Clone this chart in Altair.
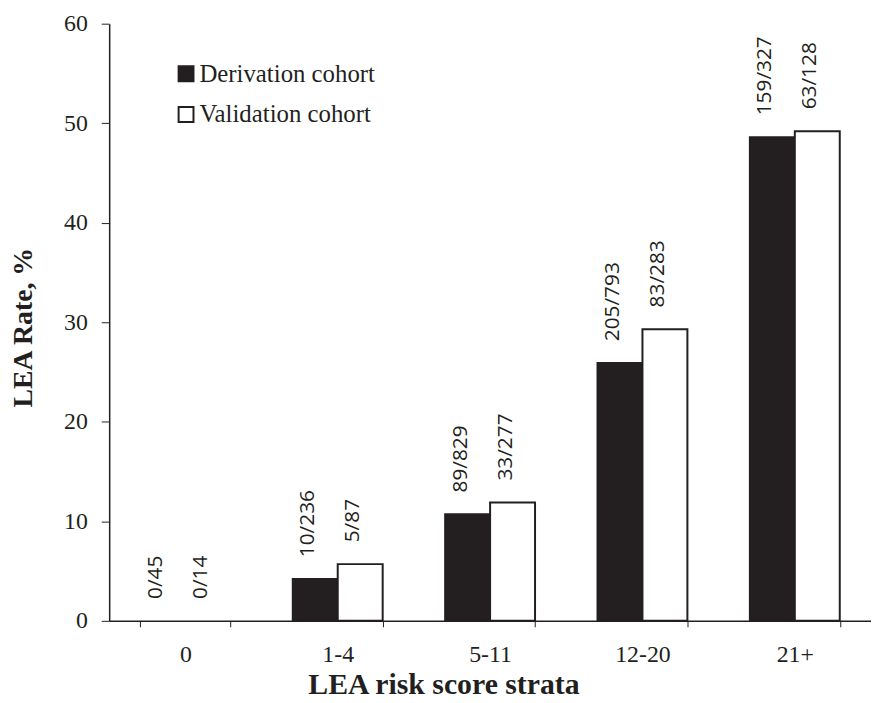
import altair as alt
import pandas as pd

strata = ["0", "1-4", "5-11", "12-20", "21+"]
cohorts = ["Derivation cohort", "Validation cohort"]
derivation_rate = [0.0, 4.2, 10.7, 25.9, 48.6]
validation_rate = [0.0, 5.7, 11.9, 29.3, 49.2]
derivation_labels = ["0/45", "10/236", "89/829", "205/793", "159/327"]
validation_labels = ["0/14", "5/87", "33/277", "83/283", "63/128"]

rows = []
for i, s in enumerate(strata):
    rows.append({"strata": s, "cohort": cohorts[0], "rate": derivation_rate[i], "label": derivation_labels[i]})
    rows.append({"strata": s, "cohort": cohorts[1], "rate": validation_rate[i], "label": validation_labels[i]})
df = pd.DataFrame(rows)

ink = "#231f20"
serif = "Liberation Serif"

x = alt.X(
    "strata:N",
    sort=strata,
    scale=alt.Scale(paddingInner=0.41, paddingOuter=0.205),
    axis=alt.Axis(
        title="LEA risk score strata",
        labelAngle=0,
        tickBand="extent",
        tickSize=6,
        tickColor=ink,
        domainColor=ink,
        domainWidth=1.5,
        labelFont=serif,
        labelFontSize=24,
        labelColor=ink,
        labelBaseline="alphabetic",
        labelPadding=35,
        titleFont=serif,
        titleFontSize=30,
        titleFontWeight="bold",
        titleColor=ink,
        titleX=337,
        titleY=73,
        titleBaseline="alphabetic",
        titleAlign="center",
    ),
)

y = alt.Y(
    "rate:Q",
    scale=alt.Scale(domain=[0, 60], nice=False),
    axis=alt.Axis(
        title="LEA Rate, %",
        values=[0, 10, 20, 30, 40, 50, 60],
        grid=False,
        tickSize=8,
        tickColor=ink,
        domainColor=ink,
        domainWidth=1.5,
        labelPadding=14,
        labelFont=serif,
        labelFontSize=24,
        labelColor=ink,
        titleFont=serif,
        titleFontSize=28,
        titleFontWeight="bold",
        titleColor=ink,
        titleX=-78,
        titleY=306,
        titleAlign="center",
        titleBaseline="alphabetic",
    ),
)

xoff = alt.XOffset("cohort:N", sort=cohorts, scale=alt.Scale(paddingInner=0, paddingOuter=0))

base = alt.Chart(df).encode(x=x, xOffset=xoff, y=y)

bars = base.mark_bar(stroke=ink, strokeWidth=2).encode(
    fill=alt.Fill(
        "cohort:N",
        sort=cohorts,
        scale=alt.Scale(domain=cohorts, range=[ink, "white"]),
        legend=alt.Legend(
            title=None,
            orient="none",
            legendX=65,
            legendY=38,
            symbolType="square",
            symbolSize=225,
            symbolStrokeColor=ink,
            symbolStrokeWidth=2,
            labelFont=serif,
            labelFontSize=25,
            labelColor=ink,
            labelOffset=1,
            labelLimit=0,
            rowPadding=15,
            padding=0,
        ),
    ),
    strokeOpacity=alt.condition(alt.datum.rate > 0, alt.value(1), alt.value(0)),
)

labels = base.mark_text(
    angle=270, align="left", baseline="middle", dx=22, dy=-7,
    font="Open Sans", fontSize=21, color=ink,
).encode(text="label:N")

chart = (
    alt.layer(bars, labels)
    .properties(
        width=768,
        height=602,
        autosize=alt.AutoSizeParams(type="none"),
        padding={"left": 102, "top": 13, "right": 0, "bottom": 80},
        background="white",
    )
    .configure_view(strokeWidth=0)
)

chart.save("out.html", embed_options={"renderer": "svg", "actions": False})
